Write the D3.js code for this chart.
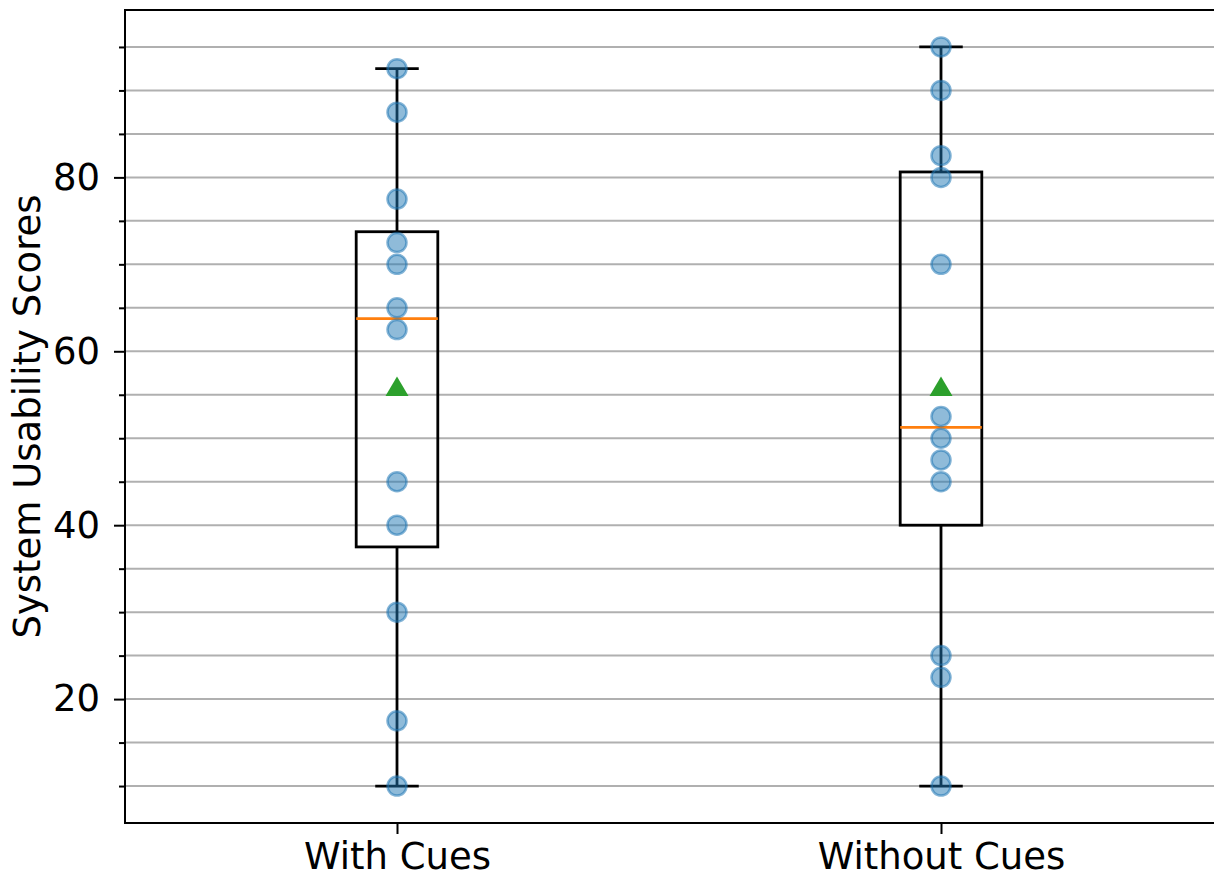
<!DOCTYPE html>
<html>
<head>
<meta charset="utf-8">
<script src="https://cdn.jsdelivr.net/npm/d3@7"></script>
<style>
  body { margin: 0; background: #fff; }
  text { font-family: "DejaVu Sans", sans-serif; }
</style>
</head>
<body>
<div id="chart"></div>
<script>
var svgWidth = 1214;
var svgHeight = 878;

var margin = { top: 10, right: 0, bottom: 55, left: 125 };
var width = svgWidth - margin.left - margin.right;
var height = svgHeight - margin.top - margin.bottom;

// data
var groups = ["With Cues", "Without Cues"];
var withCues = [92.5, 87.5, 77.5, 72.5, 70, 65, 62.5, 45, 40, 30, 17.5, 10];
var withoutCues = [95, 90, 82.5, 80, 70, 52.5, 50, 47.5, 45, 25, 22.5, 10];
var series = [withCues, withoutCues];
var majorTicks = [20, 40, 60, 80];
var minorTicks = d3.range(10, 100, 5);

var svg = d3.select("#chart")
  .append("svg")
  .attr("width", svgWidth)
  .attr("height", svgHeight);

var chartGroup = svg.append("g")
  .attr("transform", `translate(${margin.left}, ${margin.top})`);

var xScale = d3.scaleLinear().domain([0.5, 2.5]).range([0, width - 1]);
var yScale = d3.scaleLinear().domain([5.75, 99.25]).range([height, 0]);

// grid
chartGroup.append("g")
  .selectAll("line")
  .data(minorTicks)
  .enter()
  .append("line")
  .attr("x1", 0)
  .attr("x2", width)
  .attr("y1", d => yScale(d))
  .attr("y2", d => yScale(d))
  .attr("stroke", "#b0b0b0")
  .attr("stroke-width", 2);

// minor ticks
chartGroup.append("g")
  .call(d3.axisLeft(yScale).tickValues(minorTicks.filter(d => majorTicks.indexOf(d) < 0)).tickSize(6).tickFormat(""))
  .call(g => g.select(".domain").remove())
  .selectAll("line").attr("stroke-width", 2);

// major y axis
var leftAxis = chartGroup.append("g")
  .call(d3.axisLeft(yScale).tickValues(majorTicks).tickSize(11).tickPadding(14));
leftAxis.select(".domain").remove();
leftAxis.selectAll("line").attr("stroke-width", 2);
leftAxis.selectAll("text").attr("font-size", "37px").attr("fill", "#000");

// x axis
var bottomAxis = chartGroup.append("g")
  .attr("transform", `translate(0, ${height})`)
  .call(d3.axisBottom(xScale).tickValues([1, 2]).tickFormat((d, i) => groups[i]).tickSize(11).tickPadding(9));
bottomAxis.select(".domain").remove();
bottomAxis.selectAll("line").attr("stroke-width", 2);
bottomAxis.selectAll("text").attr("font-size", "37px").attr("fill", "#000");

// y label
svg.append("text")
  .attr("transform", `translate(40, ${margin.top + yScale(52.5)}) rotate(-90)`)
  .attr("text-anchor", "middle")
  .attr("font-size", "37px")
  .text("System Usability Scores");

// boxes
var boxHalf = 0.075;
series.forEach(function(vals, i) {
  var pos = i + 1;
  var sorted = vals.slice().sort(d3.ascending);
  var q1 = d3.quantile(sorted, 0.25);
  var med = d3.quantile(sorted, 0.5);
  var q3 = d3.quantile(sorted, 0.75);
  var lo = d3.min(sorted), hi = d3.max(sorted);
  var g = chartGroup.append("g");
  var cx = xScale(pos);

  g.append("line").attr("x1", cx).attr("x2", cx).attr("y1", yScale(q3)).attr("y2", yScale(hi))
    .attr("stroke", "#000").attr("stroke-width", 2.8);
  g.append("line").attr("x1", cx).attr("x2", cx).attr("y1", yScale(q1)).attr("y2", yScale(lo))
    .attr("stroke", "#000").attr("stroke-width", 2.8);
  [lo, hi].forEach(function(v) {
    g.append("line")
      .attr("x1", xScale(pos - 0.04))
      .attr("x2", xScale(pos + 0.04))
      .attr("y1", yScale(v)).attr("y2", yScale(v))
      .attr("stroke", "#000").attr("stroke-width", 2.8);
  });
  g.append("rect")
    .attr("x", xScale(pos - boxHalf))
    .attr("y", yScale(q3))
    .attr("width", xScale(pos + boxHalf) - xScale(pos - boxHalf))
    .attr("height", yScale(q1) - yScale(q3))
    .attr("fill", "none")
    .attr("stroke", "#000")
    .attr("stroke-width", 2.8);
  g.append("line")
    .attr("x1", xScale(pos - boxHalf)).attr("x2", xScale(pos + boxHalf))
    .attr("y1", yScale(med)).attr("y2", yScale(med))
    .attr("stroke", "#ff7f0e").attr("stroke-width", 2.8);

  g.selectAll("circle")
    .data(vals)
    .enter()
    .append("circle")
    .attr("cx", cx)
    .attr("cy", d => yScale(d))
    .attr("r", 9.5)
    .attr("fill", "#1f77b4")
    .attr("fill-opacity", 0.5)
    .attr("stroke", "#1f77b4")
    .attr("stroke-opacity", 0.55)
    .attr("stroke-width", 2.5);

  var m = d3.mean(vals);
  var my = yScale(m);
  g.append("path")
    .attr("d", `M${cx},${my - 11} L${cx + 11.5},${my + 8.5} L${cx - 11.5},${my + 8.5} Z`)
    .attr("fill", "#2ca02c");
});

// spines
chartGroup.append("path")
  .attr("d", `M${width},0 H0 V${height} H${width}`)
  .attr("fill", "none")
  .attr("stroke", "#000")
  .attr("stroke-width", 2);
</script>
</body>
</html>
